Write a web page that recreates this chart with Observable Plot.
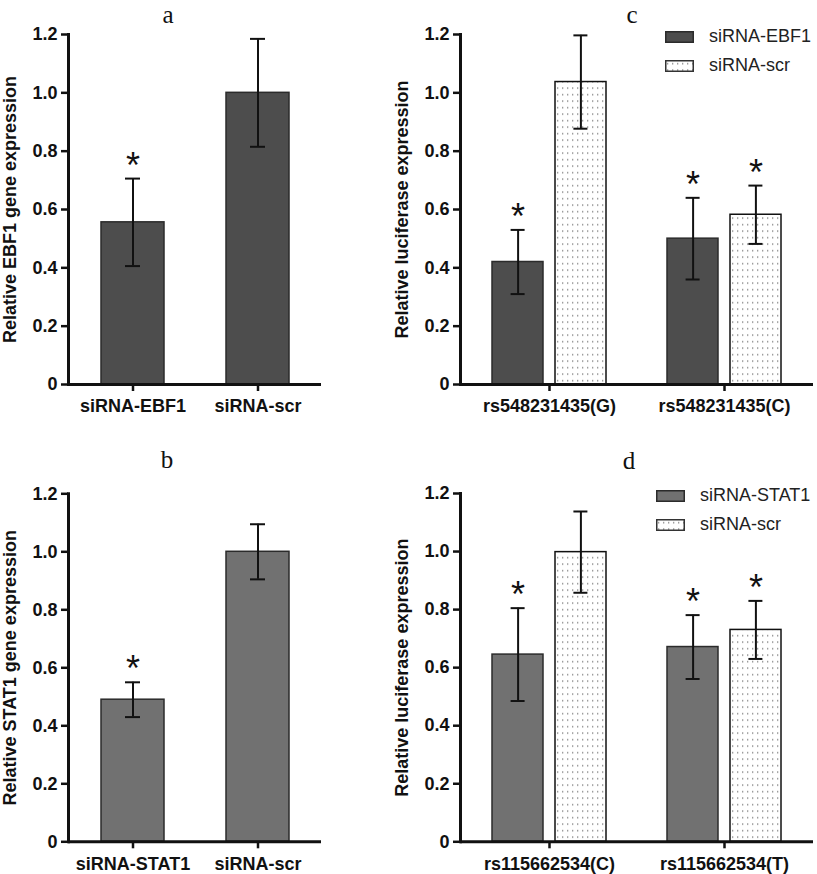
<!DOCTYPE html>
<html>
<head>
<meta charset="utf-8">
<script src="https://cdn.jsdelivr.net/npm/d3@7"></script>
<script src="https://cdn.jsdelivr.net/npm/@observablehq/plot@0.6"></script>
<style>
  html, body { margin: 0; padding: 0; background: #fff; }
  #root { position: relative; width: 817px; height: 874px; overflow: hidden; background: #fff; }
  .panel { position: absolute; }
  .panel svg { overflow: visible; }
  .ptitle { position: absolute; font-family: "Liberation Serif", "Times New Roman", serif; font-size: 25px; line-height: 25px; color: #111; transform: translateX(-50%); }
  .legend { position: absolute; font-family: "Liberation Sans", Arial, sans-serif; font-size: 18px; color: #222; }
  .legend .row { display: flex; align-items: center; height: 29px; }
  .legend svg { margin-right: 15px; }
</style>
</head>
<body>
<svg width="0" height="0" style="position:absolute">
  <defs>
    <pattern id="dots" width="5" height="6.5" patternUnits="userSpaceOnUse">
      <rect width="5" height="6.5" fill="#fff"></rect>
      <rect x="2" y="3" width="1.3" height="1.3" fill="#7a7a7a"></rect>
    </pattern>
  </defs>
</svg>
<div id="root"></div>
<script>
// ---------- data ----------
const yTicks = [0, 0.2, 0.4, 0.6, 0.8, 1.0, 1.2];
const yTickLabels = ["0", "0.2", "0.4", "0.6", "0.8", "1.0", "1.2"];

// panel a
const catsA = ["siRNA-EBF1", "siRNA-scr"];
const valuesA = [0.556, 1.0];
const errA = [0.15, 0.185];
const sigA = [true, false];

// panel b
const catsB = ["siRNA-STAT1", "siRNA-scr"];
const valuesB = [0.49, 1.0];
const errB = [0.06, 0.095];
const sigB = [true, false];

// panel c
const snpsC = ["rs548231435(G)", "rs548231435(C)"];
const seriesC = ["siRNA-EBF1", "siRNA-scr"];
const knockC = [0.42, 0.50];
const knockErrC = [0.11, 0.14];
const knockSigC = [true, true];
const scrC = [1.037, 0.582];
const scrErrC = [0.16, 0.10];
const scrSigC = [false, true];

// panel d
const snpsD = ["rs115662534(C)", "rs115662534(T)"];
const seriesD = ["siRNA-STAT1", "siRNA-scr"];
const knockD = [0.645, 0.671];
const knockErrD = [0.16, 0.11];
const knockSigD = [true, true];
const scrD = [0.998, 0.730];
const scrErrD = [0.14, 0.10];
const scrSigD = [false, true];

const titles = ["a", "b", "c", "d"];
const yLabels = ["Relative EBF1 gene expression", "Relative STAT1 gene expression",
                 "Relative luciferase expression", "Relative luciferase expression"];

// ---------- helpers ----------
const darkFill = "#4d4d4d";
const midFill = "#717171";
const FONT = "'Liberation Sans', Arial, Helvetica, sans-serif";

function axesMarks(label, labelOffset) {
  return [
    Plot.axisY({ticks: yTicks, tickFormat: d => yTickLabels[yTicks.indexOf(d)], tickSize: 7, tickPadding: 4,
      strokeWidth: 2.5, label, labelAnchor: "center", labelArrow: "none", labelOffset, fontSize: 18, fontWeight: "bold"}),
    Plot.axisX({tickSize: 7, tickPadding: 8, strokeWidth: 2.5, label: null, fontSize: 18, fontWeight: "bold"}),
    Plot.frame({anchor: "left", strokeWidth: 3}),
    Plot.ruleY([0], {strokeWidth: 3})
  ];
}

function twoBar({cats, values, errs, sig, fill, label, top}) {
  const rows = cats.map((c, i) => ({cat: c, value: values[i], err: errs[i], sig: sig[i]}));
  const hi = d => d.value + d.err, lo = d => d.value - d.err;
  const mt = top ? 34 : 56.3, mb = top ? 53 : 32.7;
  return Plot.plot({
    width: 400, height: 437, marginLeft: 68, marginRight: 79, marginTop: mt, marginBottom: mb,
    style: {fontFamily: FONT, fontSize: "18px", color: "#111", background: "transparent", overflow: "visible"},
    x: {domain: cats, paddingInner: 0.5, paddingOuter: 0.262, axis: null},
    y: {domain: [0, 1.2], axis: null},
    marks: [
      Plot.barY(rows, {x: "cat", y: "value", fill, stroke: "#2b2b2b", strokeWidth: 1.5}),
      Plot.ruleX(rows, {x: "cat", y1: lo, y2: hi, stroke: "#111", strokeWidth: 2}),
      Plot.tickY(rows, {x: "cat", y: hi, insetLeft: 24, insetRight: 24, stroke: "#111", strokeWidth: 2}),
      Plot.tickY(rows, {x: "cat", y: lo, insetLeft: 24, insetRight: 24, stroke: "#111", strokeWidth: 2}),
      Plot.text(rows.filter(d => d.sig), {x: "cat", y: hi, text: () => "*", lineAnchor: "bottom", dy: -1,
        fontSize: 36, fill: "#111"}),
      ...axesMarks(label, 65)
    ]
  });
}

function grouped({snps, series, knock, knockErr, knockSig, scr, scrErr, scrSig, fill, label, top}) {
  const rows = snps.flatMap((s, i) => [
    {snp: s, series: series[0], value: knock[i], err: knockErr[i], sig: knockSig[i]},
    {snp: s, series: series[1], value: scr[i], err: scrErr[i], sig: scrSig[i]}
  ]);
  const hi = d => d.value + d.err, lo = d => d.value - d.err;
  const mt = top ? 34 : 56, mb = top ? 53 : 32.7;
  const marks = [];
  series.forEach((name, k) => {
    const sub = rows.filter(d => d.series === name);
    const off = k === 0 ? -31.4 : 31.4;
    marks.push(
      Plot.barY(sub, {x: "snp", y: "value", insetLeft: k ? 63 : 0, insetRight: k ? 0 : 63,
        fill: k ? "url(#dots)" : fill, stroke: k ? "#111" : "#2b2b2b", strokeWidth: 1.5}),
      Plot.ruleX(sub, {x: "snp", dx: off, y1: lo, y2: hi, stroke: "#111", strokeWidth: 2}),
      Plot.tickY(sub, {x: "snp", dx: off, y: hi, insetLeft: 50, insetRight: 50, stroke: "#111", strokeWidth: 2}),
      Plot.tickY(sub, {x: "snp", dx: off, y: lo, insetLeft: 50, insetRight: 50, stroke: "#111", strokeWidth: 2}),
      Plot.text(sub.filter(d => d.sig), {x: "snp", dx: off, y: hi, text: () => "*", lineAnchor: "bottom", dy: -1,
        fontSize: 36, fill: "#111"})
    );
  });
  return Plot.plot({
    width: 427, height: 437, marginLeft: 70, marginRight: 4, marginTop: mt, marginBottom: mb,
    style: {fontFamily: FONT, fontSize: "18px", color: "#111", background: "transparent", overflow: "visible"},
    x: {domain: snps, paddingInner: 0.35, paddingOuter: 0.182, axis: null},
    y: {domain: [0, 1.2], axis: null},
    marks: [...marks, ...axesMarks(label, 65)]
  });
}

// ---------- layout ----------
const root = document.getElementById("root");
function place(el, left, top) {
  const wrap = document.createElement("div");
  wrap.className = "panel";
  wrap.style.left = left + "px";
  wrap.style.top = top + "px";
  wrap.appendChild(el);
  root.appendChild(wrap);
}
function title(text, cx, top) {
  const t = document.createElement("div");
  t.className = "ptitle";
  t.textContent = text;
  t.style.left = cx + "px";
  t.style.top = top + "px";
  root.appendChild(t);
}
function legend(names, fill, left, top) {
  const lg = document.createElement("div");
  lg.className = "legend";
  lg.style.left = left + "px";
  lg.style.top = top + "px";
  names.forEach((n, k) => {
    const row = document.createElement("div");
    row.className = "row";
    const sw = d3.create("svg").attr("width", 29).attr("height", 12);
    sw.append("rect").attr("x", 0.75).attr("y", 0.75).attr("width", 27.5).attr("height", 10.5)
      .attr("fill", k ? "url(#dots)" : fill).attr("stroke", k ? "#333" : "#2b2b2b").attr("stroke-width", 1.5);
    row.appendChild(sw.node());
    const sp = document.createElement("span");
    sp.textContent = n;
    row.appendChild(sp);
    lg.appendChild(row);
  });
  root.appendChild(lg);
}

place(twoBar({cats: catsA, values: valuesA, errs: errA, sig: sigA, fill: darkFill, label: yLabels[0], top: true}), 0, 0);
place(twoBar({cats: catsB, values: valuesB, errs: errB, sig: sigB, fill: midFill, label: yLabels[1], top: false}), 0, 437);
place(grouped({snps: snpsC, series: seriesC, knock: knockC, knockErr: knockErrC, knockSig: knockSigC,
  scr: scrC, scrErr: scrErrC, scrSig: scrSigC, fill: darkFill, label: yLabels[2], top: true}), 390, 0);
place(grouped({snps: snpsD, series: seriesD, knock: knockD, knockErr: knockErrD, knockSig: knockSigD,
  scr: scrD, scrErr: scrErrD, scrSig: scrSigD, fill: midFill, label: yLabels[3], top: false}), 390, 437);

title(titles[0], 168, 2);
title(titles[1], 167, 447);
title(titles[2], 632, 2);
title(titles[3], 629, 448);

legend(seriesC, darkFill, 665, 22);
legend(seriesD, midFill, 656, 481);
</script>
</body>
</html>
